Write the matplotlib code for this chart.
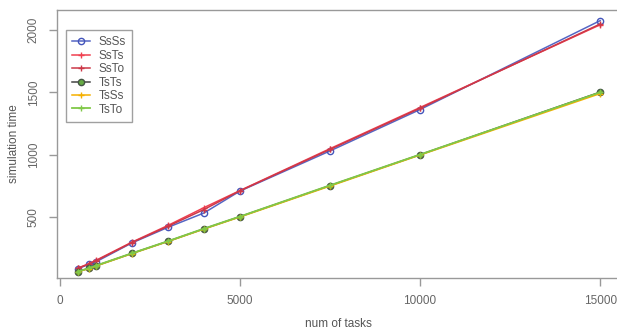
import matplotlib
matplotlib.use("Agg")
import matplotlib.pyplot as plt

plt.rcParams["font.family"] = ["Liberation Sans", "DejaVu Sans"]

# num of tasks
tasks = [500, 800, 1000, 2000, 3000, 4000, 5000, 7500, 10000, 15000]

# simulation time per configuration
ss_ss = [85, 120, 140, 292, 417, 532, 708, 1030, 1362, 2075]
ss_ts = [90, 125, 152, 298, 432, 575, 712, 1048, 1378, 2042]
ss_to = [88, 122, 148, 295, 425, 560, 710, 1042, 1372, 2048]
ts_ts = [62, 88, 108, 208, 305, 405, 503, 752, 1000, 1502]
ts_ss = [60, 86, 106, 206, 303, 403, 500, 748, 997, 1490]
ts_to = [63, 89, 110, 209, 306, 407, 504, 754, 1001, 1500]

xticks = [0, 5000, 10000, 15000]
yticks = [500, 1000, 1500, 2000]

fig = plt.figure(figsize=(6.17, 3.30), dpi=100)
ax = fig.add_axes([0.0916, 0.1576, 0.915, 0.812])

ax.plot(tasks, ss_ss, color="#5566c4", lw=1.1, marker="o", ms=4.5,
        mfc="none", mec="#4455bb", mew=1.0, label="SsSs")
ax.plot(tasks, ss_ts, color="#f04050", lw=1.1, marker="+", ms=5,
        mew=1.0, label="SsTs")
ax.plot(tasks, ss_to, color="#cc3848", lw=1.1, marker="+", ms=5,
        mew=1.0, label="SsTo")
ax.plot(tasks, ts_ts, color="#444444", lw=1.1, marker="o", ms=4.5,
        mfc="#66aa44", mec="#445544", mew=1.0, label="TsTs")
ax.plot(tasks, ts_ss, color="#f5b000", lw=1.1, marker="+", ms=5,
        mew=1.0, label="TsSs")
ax.plot(tasks, ts_to, color="#80c848", lw=1.3, marker="+", ms=5,
        mew=1.0, label="TsTo")

ax.set_xlim(-90, 15580)
ax.set_ylim(11, 2160)
ax.set_xticks(xticks)
ax.set_yticks(yticks)
ax.set_xticklabels([str(t) for t in xticks])
ax.set_yticklabels([str(t) for t in yticks], rotation=90, va="center")

for s in ["left", "bottom", "top", "right"]:
    ax.spines[s].set_color("#999999")
    ax.spines[s].set_linewidth(1.0)
ax.tick_params(direction="out", length=6, width=1.0, color="#999999",
               labelcolor="#666666", labelsize=8.5, pad=6)

ax.set_xlabel("num of tasks", fontsize=8.5, color="#555555", labelpad=8)
ax.set_ylabel("simulation time", fontsize=8.5, color="#555555", labelpad=5.5)

leg = ax.legend(loc="upper left", bbox_to_anchor=(66 / 617, 1 - 30 / 330),
                bbox_transform=fig.transFigure, borderaxespad=0,
                fontsize=8.5, frameon=True, fancybox=False, handlelength=1.5,
                labelspacing=0.12, borderpad=0.55, handletextpad=0.7)
leg.get_frame().set_edgecolor("#888888")
leg.get_frame().set_linewidth(1.0)
for t in leg.get_texts():
    t.set_color("#555555")

fig.savefig("out.png", dpi=100)
